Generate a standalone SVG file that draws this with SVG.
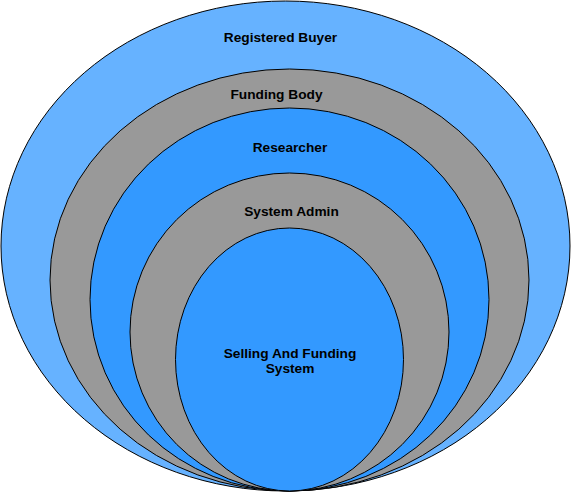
<svg xmlns="http://www.w3.org/2000/svg" width="571" height="492" viewBox="0 0 571 492">
<style>
ellipse{stroke:#000;stroke-width:1}
.lb{fill:#66B2FF}.gr{fill:#999999}.bl{fill:#3399FF}
text{font-family:"Liberation Sans",Arial,sans-serif;font-weight:bold;font-size:13.7px;fill:#000;text-anchor:middle}
</style>
<rect width="571" height="492" fill="#fff"/>
<g id="registered-buyer">
<ellipse class="lb" cx="285.5" cy="246" rx="284.5" ry="245"/>
<text x="280.5" y="42">Registered Buyer</text>
</g>
<g id="funding-body">
<ellipse class="gr" cx="289.5" cy="280" rx="239.5" ry="211"/>
<text x="276.5" y="99">Funding Body</text>
</g>
<g id="researcher">
<ellipse class="bl" cx="289.5" cy="299.5" rx="199.5" ry="191.5"/>
<text x="290" y="152">Researcher</text>
</g>
<g id="system-admin">
<ellipse class="gr" cx="289.5" cy="332" rx="159.5" ry="159"/>
<text x="291.5" y="216">System Admin</text>
</g>
<g id="selling-funding-system">
<ellipse class="bl" cx="289.5" cy="359.5" rx="114" ry="131.5"/>
<text x="290" y="357.5">Selling And Funding</text>
<text x="290" y="373">System</text>
</g>
<g id="connectors"/>
</svg>
